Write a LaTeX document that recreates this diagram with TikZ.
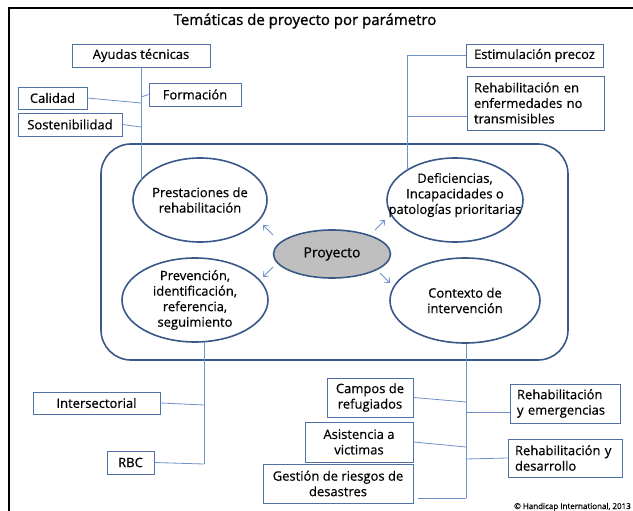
\documentclass[tikz,border=0pt]{standalone}
\usepackage{fontspec}
\setmainfont{Open Sans}[FakeBold=0.5]
\newfontfamily\titlefont{Open Sans}[FakeBold=1.2]
\usepackage{tikz}
\usetikzlibrary{arrows.meta,shapes.geometric,calc}
\definecolor{boxblue}{RGB}{79,113,165}
\definecolor{ringblue}{RGB}{56,88,135}
\definecolor{linkblue}{RGB}{110,145,200}
\definecolor{projgray}{RGB}{191,191,191}

\begin{document}
\begin{tikzpicture}[x=1pt,y=-1pt,
    tbox/.style={draw=boxblue, line width=0.9pt, rectangle, inner sep=0pt, align=center, font=\fontsize{13}{15.5}\selectfont},
    lbox/.style={tbox, align=left, inner xsep=7pt},
    topic/.style={draw=ringblue, line width=1.6pt, ellipse, inner sep=0pt},
    topictext/.style={inner sep=0pt, align=center, font=\fontsize{13}{15.5}\selectfont},
    link/.style={draw=linkblue, line width=0.8pt},
    arr/.style={link, -{Straight Barb[length=4pt,width=7pt]}}]
    \useasboundingbox (0,0) rectangle (633,511);

    % Frame and title
    \draw[line width=2.5pt] (9,520) -- (9,8) -- (640,8);
    \node[font=\titlefont\fontsize{15}{18}\selectfont, anchor=base] (title) at (305,25) {Temáticas de proyecto por parámetro};

    % Project area
    \draw[ringblue, line width=1.6pt, rounded corners=30pt] (101,144) rectangle (568,360);
    \node[topic, minimum width=134pt, minimum height=84pt] (prest) at (200,200) {};
    \node[topic, minimum width=136pt, minimum height=84pt] (defic) at (455,200) {};
    \node[topic, minimum width=146pt, minimum height=84pt] (prev) at (195,300) {};
    \node[topic, minimum width=150pt, minimum height=85pt] (contx) at (465,300.5) {};
    \node[topic, fill=projgray, minimum width=117pt, minimum height=48pt] (proy) at (332,254) {};
    \node[topictext] (prest-t) at (prest) {Prestaciones de\\ rehabilitación};
    \node[topictext] (defic-t) at (455,195) {Deficiencias,\\ Incapacidades o\\ patologías prioritarias};
    \node[topictext] (prev-t) at (prev) {Prevención,\\ identificación,\\ referencia,\\ seguimiento};
    \node[topictext] (contx-t) at (contx) {Contexto de\\ intervención};
    \node[topictext, font=\fontsize{14}{17}\selectfont] (proy-t) at (proy) {Proyecto};

    % Arrows out of the project
    \coordinate (a1) at (273,235); \coordinate (b1) at (263,225);
    \coordinate (a2) at (273,267); \coordinate (b2) at (263,277);
    \coordinate (a3) at (375,230); \coordinate (b3) at (385,220);
    \coordinate (a4) at (380,273); \coordinate (b4) at (390,283);
    \foreach \i in {1,...,4} {
        \draw[arr] (a\i) -- (b\i);
    }

    % Top left: services
    \node[tbox, minimum width=138pt, minimum height=23pt] (ayudas) at (141,55.5) {Ayudas técnicas};
    \node[tbox, minimum width=69pt, minimum height=22pt] (calidad) at (52.5,98) {Calidad};
    \node[tbox, minimum width=92pt, minimum height=23pt] (formacion) at (195,94.5) {Formación};
    \node[tbox, minimum width=104pt, minimum height=23pt] (sosten) at (70,124.5) {Sostenibilidad};
    \coordinate (jcal) at (141,103);
    \coordinate (jfor) at (141,97);
    \coordinate (jsos) at (141,127);
    \draw[link] (ayudas.south) -- (ayudas.south |- prest.161);
    \draw[link] (calidad.east) -- (jcal);
    \draw[link] (formacion.west) -- (jfor);
    \draw[link] (sosten.east) -- (jsos);

    % Top right: pathologies
    \node[tbox, minimum width=137pt, minimum height=23pt] (estim) at (534.5,55.5) {Estimulación precoz};
    \node[lbox, text width=123pt, minimum height=54pt] (rehabent) at (535.5,103) {Rehabilitación en\\ enfermedades no\\ transmisibles};
    \coordinate (jest) at (407,55.5);
    \coordinate (jreh) at (407,116);
    \draw[link] (jest) -- (jest |- defic.148);
    \draw[link] (jest) -- (estim.west);
    \draw[link] (jreh) -- (jreh -| rehabent.west);

    % Bottom left: prevention
    \node[tbox, minimum width=127pt, minimum height=22pt] (inter) at (96.5,403) {Intersectorial};
    \node[tbox, minimum width=47pt, minimum height=23pt] (rbc) at (130.5,462.5) {RBC};
    \coordinate (jint) at (204,405);
    \coordinate (jrbc) at (204,464);
    \draw[link] (jrbc |- prev.282) -- (jrbc);
    \draw[link] (inter.east) -- (jint);
    \draw[link] (rbc.east) -- (jrbc);

    % Bottom right: intervention context
    \node[tbox, minimum width=86pt, minimum height=39pt] (campos) at (370,397.5) {Campos de\\ refugiados};
    \node[tbox, minimum width=108pt, minimum height=40pt] (asist) at (359,442) {Asistencia a\\ victimas};
    \node[tbox, minimum width=150pt, minimum height=39pt] (gestion) at (338,483.5) {Gestión de riesgos de\\ desastres};
    \node[lbox, text width=96pt, minimum height=39pt] (remerg) at (565,403.5) {Rehabilitación\\ y emergencias};
    \node[lbox, text width=100pt, minimum height=38pt] (rdesa) at (565,458) {Rehabilitación y\\ desarrollo};
    \coordinate (jbot) at (466,498);
    \coordinate (jcam) at (466,402);
    \coordinate (jasi) at (466,447);
    \coordinate (jeme) at (466,412);
    \coordinate (jdes) at (466,459);
    \draw[link] (jbot |- contx.south) -- (jbot);
    \draw[link] (campos.east) -- (jcam);
    \draw[link] (asist.east) -- (jasi);
    \draw[link] ([xshift=5pt]gestion.east |- jbot) -- (jbot);
    \draw[link] (jeme) -- (jeme -| remerg.west);
    \draw[link] (jdes) -- (rdesa.west);

    % Credit
    \node[anchor=base east, inner sep=0pt, font=\fontsize{8}{10}\selectfont] (credit) at (631,509) {© Handicap International, 2013};
\end{tikzpicture}
\end{document}
